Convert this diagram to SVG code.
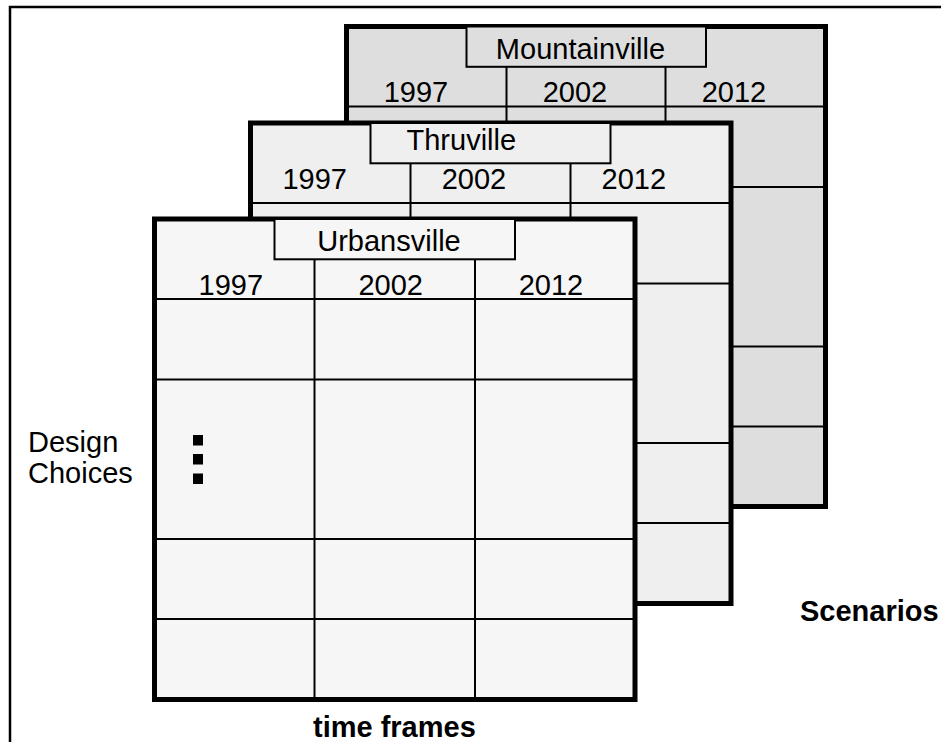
<svg xmlns="http://www.w3.org/2000/svg" width="941" height="742" viewBox="0 0 941 742">
<style>
text{font-family:"Liberation Sans",Arial,sans-serif;font-size:29px;fill:#000}
.c{text-anchor:middle}
.b{font-weight:bold}
.panel{stroke:#000;stroke-width:5}
.ln{stroke:#000;stroke-width:2;fill:none}
.tb{stroke:#000;stroke-width:2}
.m{fill:#dedede}
.t{fill:#efefef}
.u{fill:#f6f6f6}
</style>
<rect x="0" y="0" width="941" height="742" fill="#fff"/>
<rect x="10" y="7" width="1000" height="1000" fill="none" stroke="#000" stroke-width="2.5"/>

<g id="mountainville">
<rect class="panel m" x="346.5" y="26.5" width="479" height="480"/>
<path class="ln" d="M346.5 106.5H825.5M346.5 187H825.5M346.5 346.5H825.5M346.5 426.5H825.5M506.5 66.5V506.5M665.5 66.5V506.5"/>
<rect class="tb m" x="466.5" y="26.5" width="239.5" height="40.3"/>
<text class="c" x="580.5" y="58.5">Mountainville</text>
<text class="c" x="416" y="102">1997</text>
<text class="c" x="575" y="102">2002</text>
<text class="c" x="734" y="102">2012</text>
</g>

<g id="thruville">
<rect class="panel t" x="250.5" y="123" width="480.5" height="480.5"/>
<path class="ln" d="M250.5 203H731M250.5 283.5H731M250.5 443H731M250.5 523H731M410.5 163.3V603.5M570.5 163.3V603.5"/>
<rect class="tb t" x="370.5" y="123" width="240" height="40.3"/>
<text class="c" x="461.3" y="150">Thruville</text>
<text class="c" x="314.7" y="189">1997</text>
<text class="c" x="474" y="189">2002</text>
<text class="c" x="633.8" y="189">2012</text>
</g>

<g id="urbansville">
<rect class="panel u" x="154.5" y="219" width="480.5" height="480.5"/>
<path class="ln" d="M154.5 299H635M154.5 379.5H635M154.5 539H635M154.5 619H635M314.5 259.3V699.5M475 259.3V699.5"/>
<rect class="tb u" x="274.5" y="219" width="240.5" height="40.3"/>
<text class="c" x="389" y="251">Urbansville</text>
<text class="c" x="230.8" y="295">1997</text>
<text class="c" x="390.7" y="295">2002</text>
<text class="c" x="551" y="295">2012</text>
<rect x="193" y="435" width="10" height="10.5" fill="#000"/>
<rect x="193" y="454" width="10" height="10.5" fill="#000"/>
<rect x="193" y="473.5" width="10" height="10.5" fill="#000"/>
</g>

<g id="connectors"></g>

<g id="labels">
<text x="28" y="452">Design</text>
<text x="28" y="483">Choices</text>
<text class="c b" x="394.4" y="737">time frames</text>
<text class="b" x="800" y="621">Scenarios</text>
</g>
</svg>
